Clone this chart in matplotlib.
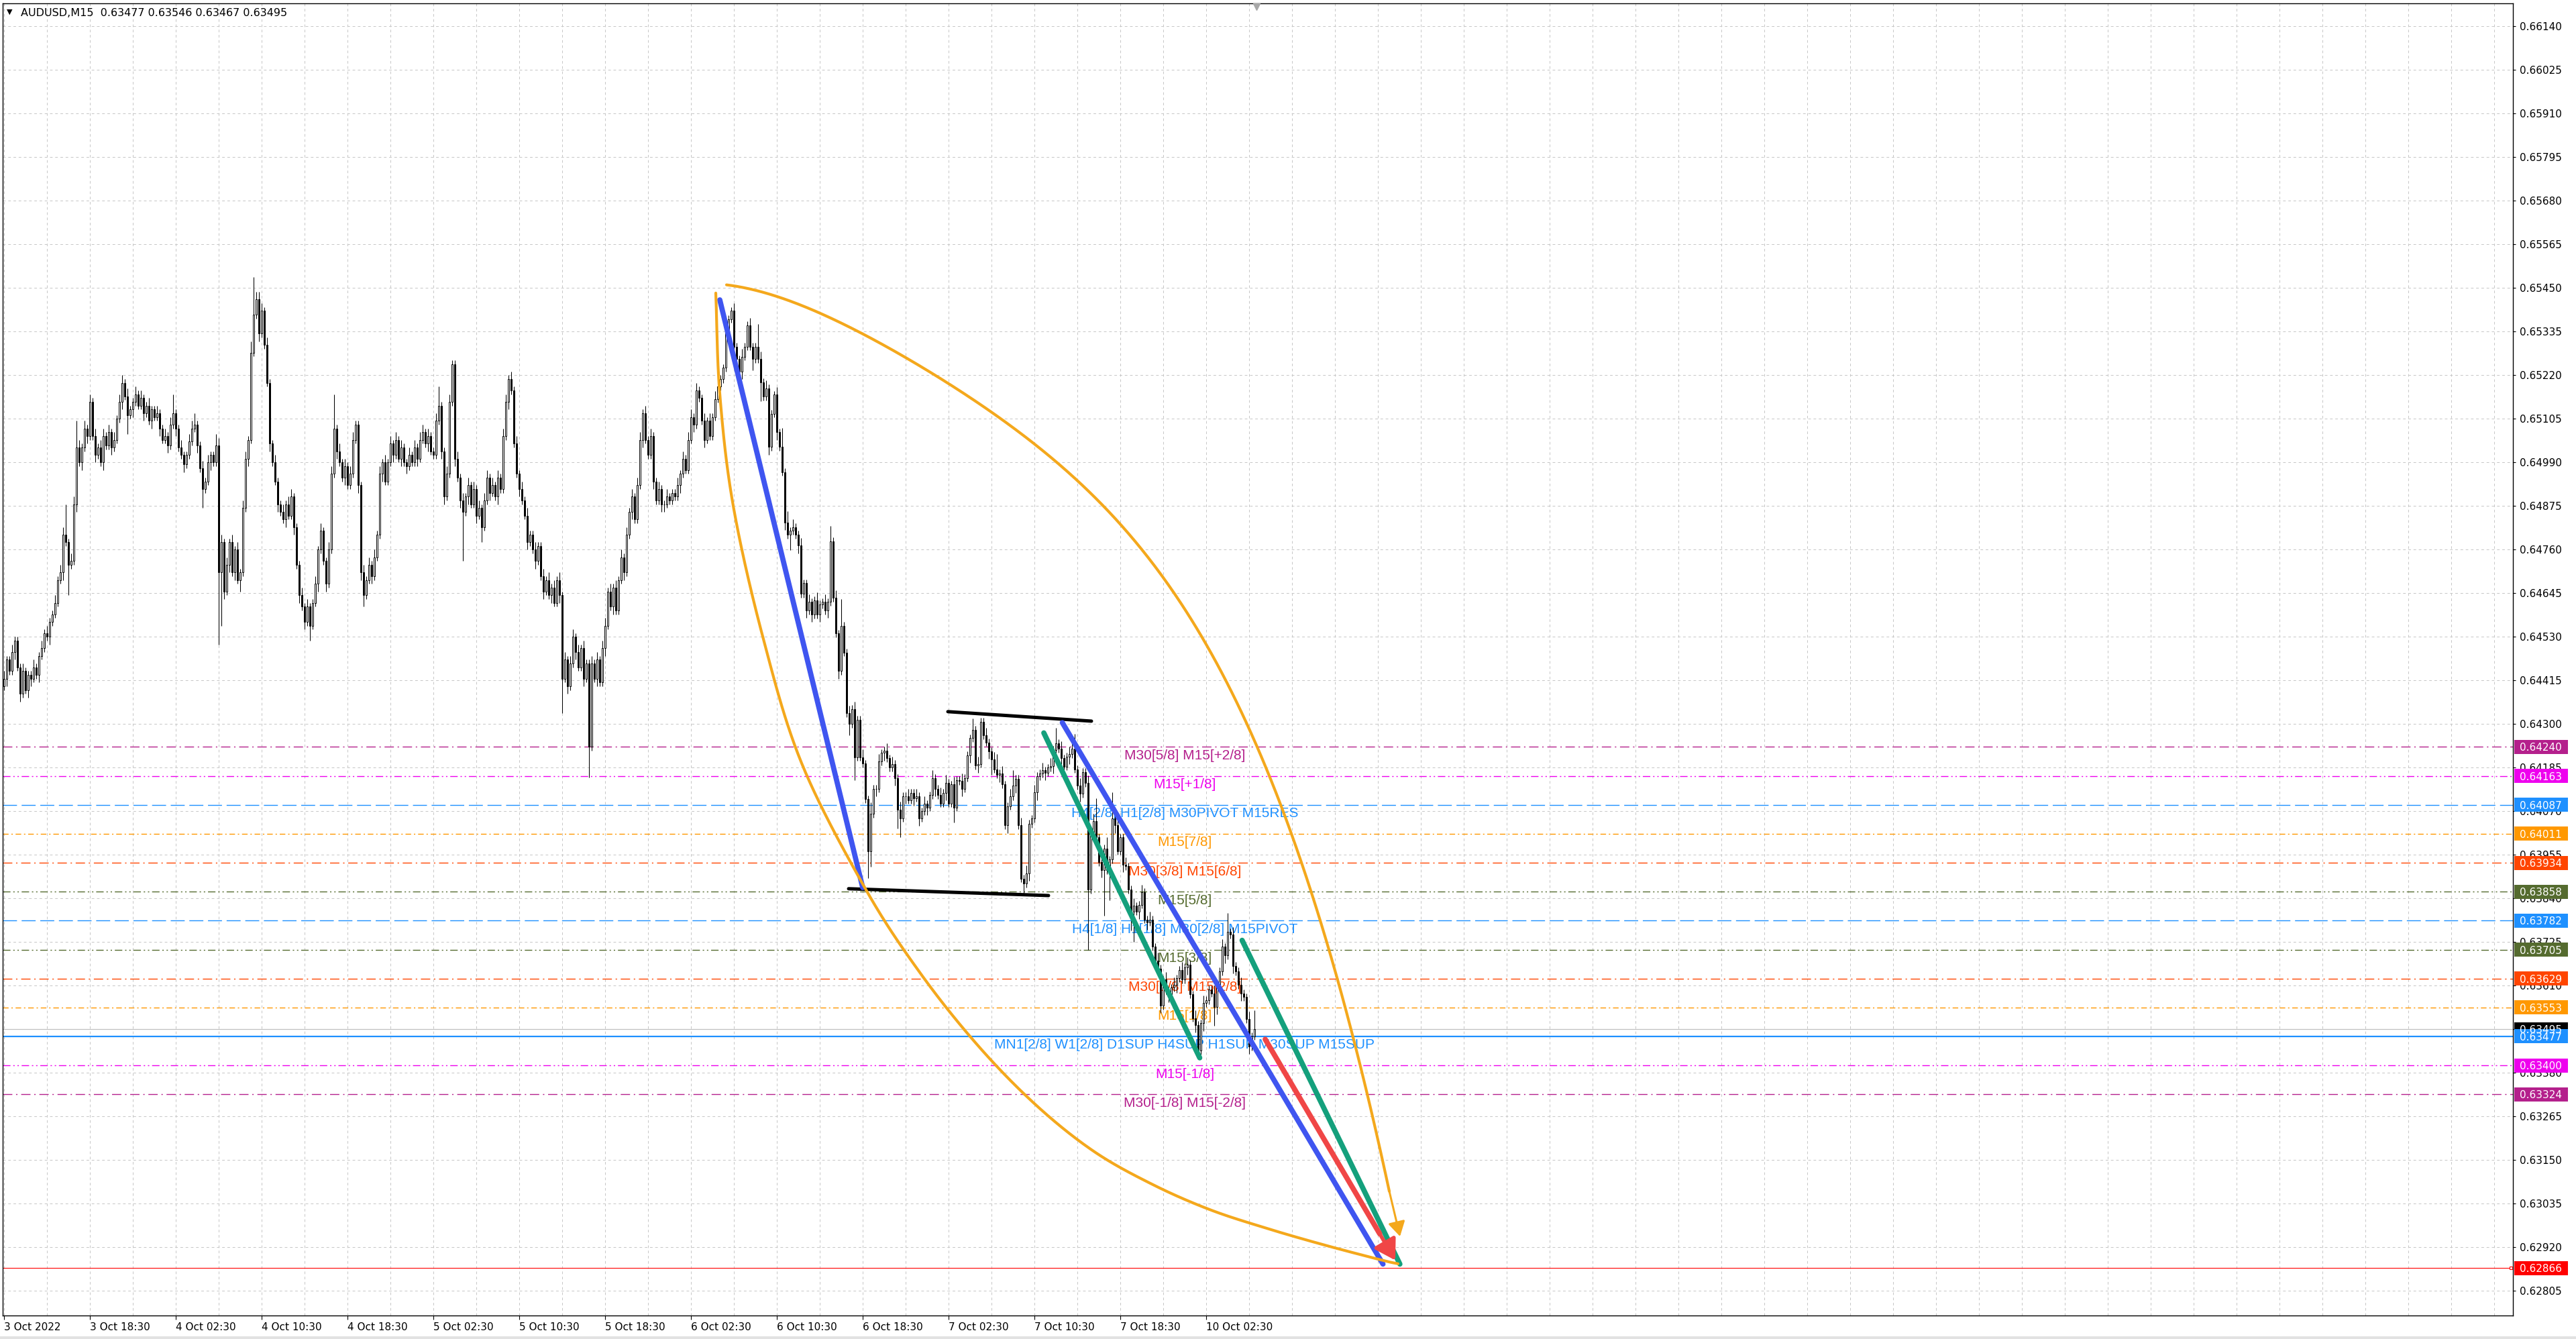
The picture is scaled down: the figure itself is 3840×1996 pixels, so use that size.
import numpy as np
import matplotlib
matplotlib.use("Agg")
import matplotlib.pyplot as plt
from matplotlib import transforms
from matplotlib.patches import Rectangle

# AUDUSD M15 closes, in 1e-5 units, bar 0 = 3 Oct 10:30
close_pts = [
    64420, 64470, 64440, 64490, 64520, 64450, 64380, 64440, 64390, 64430,
    64420, 64450, 64430, 64480, 64500, 64540, 64530, 64570, 64590, 64620,
    64680, 64700, 64800, 64780, 64720, 64730, 64880, 65030, 64990, 65030,
    65080, 65060, 65150, 65060, 65010, 65030, 64990, 65060, 65035, 65070,
    65030, 65050, 65105, 65150, 65200, 65165, 65115, 65130, 65150, 65170,
    65140, 65160, 65120, 65140, 65100, 65130, 65110, 65120, 65080, 65050,
    65060, 65035, 65090, 65120, 65080, 65030, 65010, 64985, 65010, 65045,
    65080, 65090, 65035, 64975, 64920, 64940, 64990, 65010, 64990, 65035,
    64700, 64780, 64650, 64720, 64780, 64700, 64760, 64680, 64700, 64870,
    65000, 65050, 65280, 65380, 65420, 65330, 65390, 65300, 65200, 65040,
    64990, 64940, 64880, 64860, 64840, 64880, 64850, 64900, 64820, 64720,
    64640, 64610, 64570, 64610, 64560, 64620, 64670, 64760, 64810, 64730,
    64670, 64760, 64960, 65080, 65020, 64990, 64950, 64980, 64930, 64960,
    65050, 65090, 64930, 64700, 64640, 64680, 64720, 64690, 64740, 64800,
    64960, 64990, 64940, 64990, 65040, 65010, 65050, 65000, 65030, 64990,
    64980, 65010, 64990, 65030, 65000, 65050, 65070, 65040, 65060, 65020,
    65010, 65100, 65140, 65020, 64900, 64960, 65150, 65250, 65000, 64950,
    64890, 64860, 64900, 64930, 64880, 64920, 64850, 64870, 64820, 64890,
    64950, 64910, 64930, 64900, 64950, 64920, 65060, 65150, 65210, 65180,
    65040, 64960, 64920, 64890, 64850, 64780, 64800, 64760, 64730, 64770,
    64690, 64650, 64680, 64640, 64660, 64620, 64680, 64640, 64420, 64470,
    64400, 64460, 64530, 64490, 64450, 64500, 64420, 64460, 64240, 64460,
    64420, 64470, 64410, 64500, 64560, 64650, 64610, 64660, 64600, 64680,
    64740, 64700, 64800, 64860, 64900, 64840, 64930, 65050, 65120, 65050,
    65010, 65060, 64940, 64890, 64920, 64880, 64880, 64900, 64890, 64910,
    64900, 64930, 64960, 65000, 64970, 65050, 65110, 65090, 65180, 65160,
    65100, 65050, 65100, 65060, 65110, 65158, 65190, 65210, 65240, 65340,
    65368, 65390, 65296, 65263, 65230, 65269, 65296, 65352, 65296, 65263,
    65296, 65263, 65202, 65164, 65186, 65031, 65119, 65169, 65070, 65031,
    64965, 64832, 64799, 64810, 64820, 64800, 64771, 64644, 64672, 64600,
    64622, 64589, 64627, 64589, 64616, 64622, 64600, 64622, 64782, 64633,
    64539, 64440, 64560, 64489, 64329, 64301, 64340, 64213, 64312, 64213,
    64196, 64102, 63964, 64063, 64130, 64130, 64202, 64224, 64230, 64210,
    64185, 64195, 64158, 64075, 64052, 64110, 64110, 64100, 64119, 64105,
    64110, 64052, 64070, 64090, 64080, 64113, 64158, 64130, 64113, 64091,
    64119, 64146, 64091, 64141, 64080, 64152, 64150, 64130, 64158, 64218,
    64263, 64285, 64191, 64195, 64307, 64270, 64252, 64229, 64207, 64181,
    64167, 64170, 64141, 64033, 64084, 64109, 64138, 64156, 64033, 63893,
    63879, 63907, 64037, 64051, 64120, 64163, 64170, 64178, 64172, 64185,
    64190, 64232, 64250, 64235, 64210, 64188, 64214, 64221, 64235, 64181,
    64138, 64116, 64174, 64145, 63864, 64015, 64044, 64001, 63936, 63915,
    63972, 63915, 63943, 64051, 64033, 63965, 64001, 63929, 63925, 63864,
    63806, 63821, 63806, 63824, 63857, 63785, 63778, 63785, 63713, 63677,
    63655, 63558, 63626, 63598, 63587, 63605, 63612, 63630, 63652, 63626,
    63659, 63666, 63587, 63525, 63507, 63439, 63511, 63565, 63572, 63601,
    63590, 63554, 63612, 63648, 63713, 63690, 63752, 63745, 63662, 63648,
    63612, 63590, 63580, 63522, 63450, 63477, 63495,
]
first_open = 64400

# wick lengths in pips above / below the candle body
up_wick = [
    2, 1, 1, 2, 1, 1, 1, 2, 1, 1, 1, 2, 1, 1, 2, 1, 2, 1, 1, 2,
    1, 2, 2, 8, 1, 2, 2, 7, 2, 1, 2, 1, 2, 1, 2, 1, 2, 2, 1, 2,
    1, 2, 1, 2, 2, 1, 2, 1, 1, 2, 1, 2, 1, 1, 2, 1, 1, 2, 1, 1,
    2, 1, 2, 5, 1, 1, 2, 1, 1, 2, 2, 3, 1, 1, 2, 1, 2, 1, 1, 3,
    2, 2, 1, 2, 1, 2, 1, 2, 1, 2, 2, 1, 3, 10, 2, 2, 2, 1, 2, 1,
    1, 2, 1, 1, 2, 1, 2, 2, 1, 1, 1, 2, 1, 2, 1, 1, 2, 1, 2, 1,
    1, 2, 2, 9, 1, 2, 1, 2, 1, 2, 2, 1, 1, 1, 2, 1, 2, 1, 2, 1,
    2, 1, 2, 1, 2, 1, 2, 1, 2, 1, 1, 2, 1, 2, 1, 2, 2, 1, 2, 1,
    1, 2, 5, 1, 1, 2, 2, 1, 1, 2, 1, 2, 1, 2, 1, 2, 1, 2, 1, 2,
    2, 1, 2, 1, 2, 1, 2, 2, 1, 2, 1, 2, 1, 2, 1, 2, 1, 1, 2, 1,
    1, 2, 1, 2, 1, 2, 1, 2, 1, 2, 1, 2, 2, 1, 2, 1, 2, 1, 1, 2,
    1, 2, 1, 2, 2, 1, 2, 1, 2, 1, 2, 1, 2, 1, 2, 1, 2, 2, 1, 2,
    1, 2, 1, 1, 2, 1, 1, 2, 1, 1, 1, 2, 1, 2, 1, 2, 2, 1, 2, 1,
    1, 2, 1, 2, 1, 2, 6, 1, 1, 1, 1, 1, 2, 1, 1, 2, 1, 1, 2, 1,
    1, 6, 2, 1, 2, 1, 1, 1, 2, 1, 5, 1, 3, 1, 2, 1, 1, 2, 1, 1,
    2, 1, 1, 2, 1, 1, 2, 1, 4, 1, 2, 1, 7, 1, 1, 2, 1, 2, 1, 1,
    2, 1, 1, 3, 1, 1, 2, 1, 1, 2, 1, 2, 1, 1, 2, 1, 1, 2, 1, 1,
    2, 1, 1, 2, 1, 1, 2, 1, 1, 2, 1, 2, 1, 1, 2, 1, 1, 2, 1, 1,
    1, 3, 1, 2, 1, 1, 2, 1, 1, 2, 4, 1, 2, 1, 1, 2, 4, 1, 1, 2,
    1, 2, 1, 1, 2, 1, 1, 2, 1, 1, 2, 1, 4, 1, 2, 1, 1, 2, 3, 4,
    1, 2, 1, 1, 2, 1, 2, 6, 1, 2, 1, 3, 1, 7, 1, 2, 1, 1, 2, 1,
    1, 2, 1, 1, 2, 1, 1, 2, 1, 1, 2, 1, 1, 2, 1, 1, 2, 1, 1, 2,
    1, 2, 1, 1, 2, 1, 1, 2, 1, 1, 1, 2, 1, 1, 2, 1, 5, 1, 2, 1,
    1, 2, 1, 1, 2, 1, 5,
]
down_wick = [
    1, 2, 1, 1, 2, 1, 2, 1, 1, 2, 2, 1, 1, 2, 1, 1, 1, 2, 1, 1,
    1, 1, 2, 1, 8, 1, 1, 2, 1, 2, 1, 2, 1, 1, 2, 1, 1, 2, 1, 1,
    2, 1, 1, 1, 2, 1, 5, 1, 2, 1, 1, 1, 2, 1, 1, 2, 1, 1, 2, 1,
    1, 2, 1, 1, 2, 1, 1, 2, 1, 1, 1, 1, 2, 1, 5, 1, 1, 2, 1, 1,
    19, 14, 2, 1, 2, 1, 2, 1, 3, 1, 1, 2, 1, 1, 1, 2, 1, 1, 1, 2,
    1, 1, 2, 1, 1, 2, 1, 1, 2, 1, 2, 1, 2, 1, 4, 1, 1, 2, 1, 1,
    2, 1, 1, 1, 2, 1, 1, 2, 1, 1, 1, 1, 2, 2, 3, 1, 1, 2, 1, 1,
    1, 2, 1, 1, 1, 2, 1, 1, 2, 1, 2, 1, 1, 1, 2, 1, 1, 1, 2, 1,
    1, 1, 1, 2, 2, 1, 1, 1, 2, 1, 2, 13, 1, 2, 1, 1, 2, 1, 4, 1,
    1, 2, 1, 1, 2, 1, 1, 1, 2, 1, 1, 1, 2, 1, 1, 2, 1, 1, 2, 1,
    1, 2, 1, 1, 2, 1, 1, 2, 9, 1, 2, 1, 1, 2, 1, 1, 2, 1, 8, 1,
    1, 2, 1, 1, 2, 1, 1, 2, 1, 1, 1, 2, 1, 1, 2, 1, 1, 1, 2, 1,
    1, 1, 2, 1, 1, 2, 2, 1, 1, 1, 1, 1, 2, 1, 1, 1, 1, 2, 1, 1,
    1, 2, 1, 1, 1, 1, 1, 1, 1, 1, 1, 1, 1, 1, 1, 2, 1, 1, 1, 3,
    1, 1, 5, 1, 1, 2, 1, 1, 2, 1, 1, 2, 1, 4, 1, 1, 2, 1, 1, 2,
    1, 2, 1, 1, 2, 1, 1, 2, 1, 1, 1, 2, 1, 1, 1, 3, 1, 6, 1, 1,
    1, 1, 7, 4, 1, 2, 1, 1, 2, 1, 1, 1, 2, 5, 5, 1, 2, 1, 1, 2,
    1, 2, 1, 1, 2, 1, 1, 2, 1, 1, 1, 2, 1, 1, 4, 1, 1, 2, 1, 1,
    2, 1, 1, 2, 1, 1, 1, 2, 4, 1, 1, 2, 1, 1, 2, 1, 1, 2, 1, 1,
    3, 1, 2, 1, 1, 2, 1, 1, 2, 1, 1, 2, 1, 1, 2, 1, 1, 2, 1, 1,
    1, 2, 1, 1, 16, 1, 2, 1, 1, 2, 12, 1, 8, 1, 2, 1, 1, 2, 1, 1,
    5, 8, 1, 2, 1, 1, 2, 1, 1, 2, 1, 2, 1, 1, 2, 1, 1, 2, 1, 1,
    1, 2, 1, 1, 2, 1, 1, 2, 1, 1, 1, 5, 2, 1, 1, 2, 1, 1, 2, 1,
    1, 2, 1, 1, 2, 1, 1,
]

time_labels = ["3 Oct 2022", "3 Oct 18:30", "4 Oct 02:30", "4 Oct 10:30",
               "4 Oct 18:30", "5 Oct 02:30", "5 Oct 10:30", "5 Oct 18:30",
               "6 Oct 02:30", "6 Oct 10:30", "6 Oct 18:30", "7 Oct 02:30",
               "7 Oct 10:30", "7 Oct 18:30", "10 Oct 02:30"]
bars_per_label = 32

price_top_tick = 0.66140
price_step = 0.00115
n_price_ticks = 30

# murrey math levels drawn by the indicator
level_prices = [0.64240, 0.64163, 0.64087, 0.64011, 0.63934, 0.63858, 0.63782,
                0.63705, 0.63629, 0.63553, 0.63477, 0.63400, 0.63324]
level_names = ["M30[5/8] M15[+2/8]", "M15[+1/8]",
               "H4[2/8] H1[2/8] M30PIVOT M15RES", "M15[7/8]",
               "M30[3/8] M15[6/8]", "M15[5/8]",
               "H4[1/8] H1[1/8] M30[2/8] M15PIVOT", "M15[3/8]",
               "M30[1/8] M15[2/8]", "M15[1/8]",
               "MN1[2/8] W1[2/8] D1SUP H4SUP H1SUP M30SUP M15SUP",
               "M15[-1/8]", "M30[-1/8] M15[-2/8]"]
level_colors = ["#B4208C", "#EE00EE", "#1E90FF", "#FF9800", "#FF4500",
                "#556B2F", "#1E90FF", "#556B2F", "#FF4500", "#FF9800",
                "#1E90FF", "#EE00EE", "#B4208C"]
level_styles = ["dashdot", "dashdotdot", "dash", "dotdash", "dashdot",
                "dashdotdot", "dash", "dashdotdot", "dashdot", "dotdash",
                "solid", "dashdotdot", "dashdot"]
label_bar = 440

bid_price = 0.63495
target_price = 0.62866

# hand-drawn objects: (bar, price) end points
blue_lines = [((266.75, 0.65419), (320.0, 0.63869)),
              ((394.4, 0.64304), (513.9, 0.62876))]
teal_lines = [((387.5, 0.64277), (445.6, 0.63420)),
              ((461.4, 0.63730), (520.2, 0.62876))]
red_lines = [((470.0, 0.63469), (518.5, 0.62886))]
black_lines = [((351.75, 0.64333), (405.25, 0.64308)),
               ((314.75, 0.63866), (389.25, 0.63848))]

# points read along the two orange arcs
arc_low_bar = [265.25, 266.75, 271.75, 282.75, 297.25, 321.0, 341.5, 363.0,
               384.5, 406.0, 427.75, 449.25, 470.75, 492.25, 513.75, 519.5]
arc_low_price = [0.65437, 0.65171, 0.64876, 0.64531, 0.64197, 0.63866,
                 0.63643, 0.63452, 0.63296, 0.63174, 0.63087, 0.63020,
                 0.62970, 0.62926, 0.62886, 0.62877]
arc_up_bar = [269.25, 298.5, 320.0, 351.75, 368.5, 398.95, 416.2, 432.0,
              447.75, 463.75, 468.5, 476.75, 485.25, 493.5, 501.75, 507.75,
              514.25, 520.25]
arc_up_price = [0.65463, 0.65390, 0.65329, 0.65205, 0.65132, 0.64947,
                0.64825, 0.64669, 0.64496, 0.64299, 0.64235, 0.64078,
                0.63912, 0.63708, 0.63496, 0.63310, 0.63126, 0.62949]


def catmull_rom(xs, ys, n=40):
    pts = np.column_stack([xs, ys]).astype(float)
    pts = np.vstack([2 * pts[0] - pts[1], pts, 2 * pts[-1] - pts[-2]])
    out = []
    t = np.linspace(0, 1, n, endpoint=False)[:, None]
    for k in range(1, len(pts) - 2):
        p0, p1, p2, p3 = pts[k - 1], pts[k], pts[k + 1], pts[k + 2]
        out.append(0.5 * (2 * p1 + (p2 - p0) * t
                          + (2 * p0 - 5 * p1 + 4 * p2 - p3) * t ** 2
                          + (3 * p1 - p0 - 3 * p2 + p3) * t ** 3))
    out.append(pts[-2][None])
    seg = np.vstack(out)
    return seg[:, 0], seg[:, 1]


dash_map = {
    "solid": "-",
    "dash": (0, (15, 5)),
    "dashdot": (0, (10, 4, 1.5, 4)),
    "dotdash": (0, (6, 3, 1.5, 3)),
    "dashdotdot": (0, (8, 3, 1.5, 3, 1.5, 3)),
}

W, H = 3840, 1996
fig = plt.figure(figsize=(W / 100, H / 100), dpi=100)
fig.patch.set_facecolor("white")
ax = fig.add_axes([4 / W, 1 - 1961 / H, 3742 / W, 1956 / H])

closes = np.array(close_pts) / 1e5
opens = np.concatenate([[first_open / 1e5], closes[:-1]])
highs = np.maximum(opens, closes) + np.array(up_wick) * 1e-4
lows = np.minimum(opens, closes) - np.array(down_wick) * 1e-4
bars = np.arange(len(closes))

ax.set_xlim(-0.5, 935)
ax.set_ylim(0.627404, 0.66201)

# grid
price_ticks = price_top_tick - price_step * np.arange(n_price_ticks)
ax.set_yticks(price_ticks)
ax.set_yticklabels([f"{p:.5f}" for p in price_ticks])
label_pos = np.arange(len(time_labels)) * bars_per_label
ax.set_xticks(label_pos)
ax.set_xticklabels(time_labels, ha="left")
ax.set_xticks(np.arange(0, 935, 16), minor=True)
ax.set_axisbelow(True)
ax.grid(True, which="both", axis="x", color="#C6C6C6", lw=0.7, ls=(0, (4, 4)))
ax.grid(True, which="major", axis="y", color="#C6C6C6", lw=0.7, ls=(0, (4, 4)))

ax.yaxis.tick_right()
ax.tick_params(axis="y", length=3, width=0.8, pad=4, labelsize=11,
               labelcolor="black")
ax.tick_params(axis="x", which="major", length=4, width=0.8, pad=3,
               labelsize=11)
ax.tick_params(axis="x", which="minor", length=0)
for lab in ax.get_xticklabels() + ax.get_yticklabels():
    lab.set_family("DejaVu Sans")
for sp in ax.spines.values():
    sp.set_color("black")
    sp.set_linewidth(1.0)

# level lines and their captions
for p, name, col, st in zip(level_prices, level_names, level_colors, level_styles):
    ax.axhline(p, color=col, lw=1.6 if st == "solid" else 1.0,
               ls=dash_map[st], zorder=2)
    ax.annotate(name, xy=(label_bar, p), xytext=(0, -2.5),
                textcoords="offset points", ha="center", va="top",
                fontsize=15, color=col, family="Liberation Sans", zorder=3)
ax.axhline(bid_price, color="#C0C0C0", lw=0.9, zorder=2)
ax.axhline(target_price, color="#FF0000", lw=0.8, zorder=2)
ax.plot([934.2], [target_price], marker="s", ms=3, mfc="white", mec="#FF0000",
        mew=0.8, zorder=3, clip_on=False)

# candles
ax.vlines(bars, lows, highs, color="black", lw=0.75, zorder=4)
bull = closes >= opens
body_h = np.abs(closes - opens)
ax.bar(bars, body_h, bottom=np.minimum(opens, closes), width=0.68,
       color=np.where(bull, "white", "black"), edgecolor="black",
       linewidth=0.7, zorder=5)

# drawn objects
for (x0, y0), (x1, y1) in black_lines:
    ax.plot([x0, x1], [y0, y1], color="black", lw=3.6,
            solid_capstyle="round", zorder=8)
for (x0, y0), (x1, y1) in blue_lines:
    ax.plot([x0, x1], [y0, y1], color="#3F55F0", lw=5.6,
            solid_capstyle="round", zorder=8)
for (x0, y0), (x1, y1) in teal_lines:
    ax.plot([x0, x1], [y0, y1], color="#14A07C", lw=5.6,
            solid_capstyle="round", zorder=8)
for (x0, y0), (x1, y1) in red_lines:
    xm, ym = x0 + (x1 - x0) * 0.88, y0 + (y1 - y0) * 0.88
    ax.plot([x0, xm], [y0, ym], color="#F04646", lw=5.6,
            solid_capstyle="round", zorder=8)
    ax.annotate("", xy=(x1, y1), xytext=(xm, ym),
                arrowprops=dict(arrowstyle="-|>,head_length=0.9,head_width=0.55",
                                mutation_scale=20, color="#F04646", lw=4,
                                shrinkA=0, shrinkB=0), zorder=8)

ax_, ay_ = catmull_rom(arc_low_bar, arc_low_price)
ax.plot(ax_, ay_, color="#F4A81C", lw=3.0, solid_capstyle="round", zorder=9)

# the upper arc is smoothed with a low-order fit through the read points
arc_fit = np.polynomial.Polynomial.fit(arc_up_bar, arc_up_price, 4)
tail_bar = arc_up_bar[-1] - 4.0
bx_ = np.linspace(arc_up_bar[0], tail_bar, 400)
by_ = arc_fit(bx_)
ax.plot(bx_, by_, color="#F4A81C", lw=3.0, solid_capstyle="round", zorder=9)
ax.annotate("", xy=(arc_up_bar[-1], arc_up_price[-1]),
            xytext=(bx_[-1], by_[-1]),
            arrowprops=dict(arrowstyle="-|>,head_length=0.6,head_width=0.35",
                            mutation_scale=22, color="#F4A81C", lw=2.2,
                            shrinkA=0, shrinkB=0), zorder=9)

# chart shift marker
ax.plot([466.75], [0.66201 - 0.00008], marker="v", ms=7, color="#A8A8A8",
        zorder=9, clip_on=False)

# right-side price boxes
trans = transforms.blended_transform_factory(ax.transAxes, ax.transData)
box_h = 21 / 56521.7
box_items = [(bid_price, "black")] + list(zip(level_prices, level_colors)) \
    + [(target_price, "#FF0000")]
for p, col in box_items:
    ax.add_patch(Rectangle((1 + 2 / 3742, p - box_h / 2), 80 / 3742, box_h,
                           transform=trans, fc=col, ec="none",
                           clip_on=False, zorder=6))
    ax.text(1 + 10 / 3742, p, f"{p:.5f}", transform=trans, color="white",
            fontsize=11, va="center_baseline", ha="left", family="DejaVu Sans",
            clip_on=False, zorder=7)

# header
fig.text(10 / W, 1 - 18 / H, "\u25bc", fontsize=8, va="center", ha="left",
         family="DejaVu Sans")
fig.text(31 / W, 1 - 20 / H, "AUDUSD,M15  0.63477 0.63546 0.63467 0.63495",
         fontsize=11.5, va="center", ha="left", family="DejaVu Sans")
fig.add_artist(Rectangle((0, 0), 1, 4 / H, transform=fig.transFigure,
                         fc="#E2E2E2", ec="none"))

fig.savefig("out.png", dpi=100, facecolor="white")
